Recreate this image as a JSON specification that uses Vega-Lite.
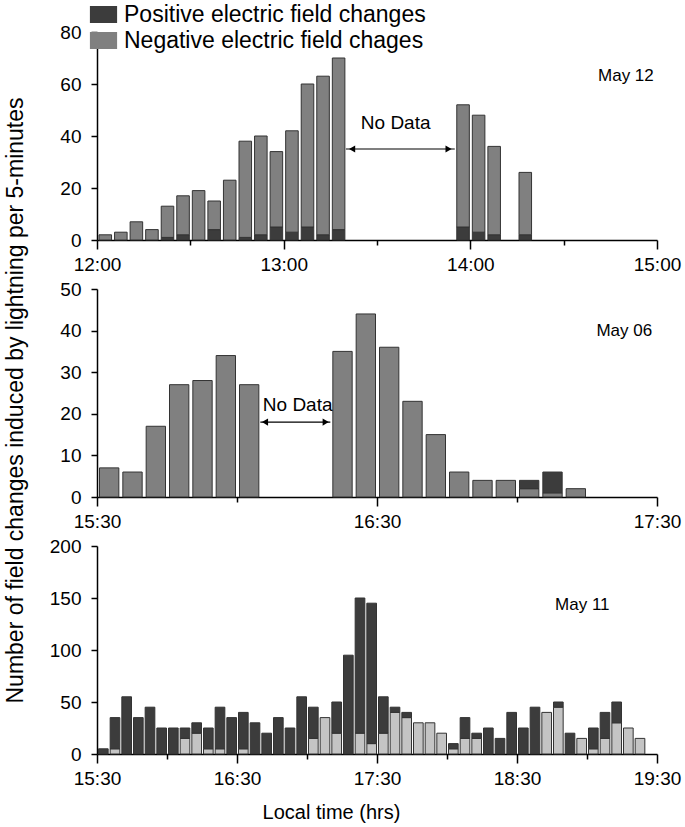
{
  "$schema": "https://vega.github.io/schema/vega-lite/v6.json",
  "background": "white",
  "padding": {"left": 5, "top": 3, "right": 5, "bottom": 5},
  "title": {"text": "Number of field changes induced by lightning per 5-minutes", "orient": "left", "anchor": "middle", "fontSize": 23, "fontWeight": "normal", "font": "Liberation Sans", "color": "black", "offset": 21, "dx": 12},
  "config": {
    "font": "Liberation Sans",
    "view": {"stroke": null},
    "axis": {"labelFont": "Liberation Sans", "labelFontSize": 19, "labelColor": "black", "domainColor": "black", "tickColor": "black", "domainWidth": 1.5, "tickWidth": 1.5, "tickSize": 6, "grid": false, "labelFlush": false, "labelOverlap": false, "titleFont": "Liberation Sans", "titleFontWeight": "normal", "titleColor": "black", "titleFontSize": 20},
    "text": {"font": "Liberation Sans", "fontSize": 17, "color": "black"}
  },
  "datasets": {
    "may12": [
      {"start": 720, "end": 725, "type": "Negative electric field chages", "count": 2},
      {"start": 725, "end": 730, "type": "Negative electric field chages", "count": 3},
      {"start": 730, "end": 735, "type": "Negative electric field chages", "count": 7},
      {"start": 735, "end": 740, "type": "Negative electric field chages", "count": 4},
      {"start": 740, "end": 745, "type": "Positive electric field changes", "count": 1},
      {"start": 740, "end": 745, "type": "Negative electric field chages", "count": 12},
      {"start": 745, "end": 750, "type": "Positive electric field changes", "count": 2},
      {"start": 745, "end": 750, "type": "Negative electric field chages", "count": 15},
      {"start": 750, "end": 755, "type": "Negative electric field chages", "count": 19},
      {"start": 755, "end": 760, "type": "Positive electric field changes", "count": 4},
      {"start": 755, "end": 760, "type": "Negative electric field chages", "count": 11},
      {"start": 760, "end": 765, "type": "Negative electric field chages", "count": 23},
      {"start": 765, "end": 770, "type": "Positive electric field changes", "count": 1},
      {"start": 765, "end": 770, "type": "Negative electric field chages", "count": 37},
      {"start": 770, "end": 775, "type": "Positive electric field changes", "count": 2},
      {"start": 770, "end": 775, "type": "Negative electric field chages", "count": 38},
      {"start": 775, "end": 780, "type": "Positive electric field changes", "count": 5},
      {"start": 775, "end": 780, "type": "Negative electric field chages", "count": 29},
      {"start": 780, "end": 785, "type": "Positive electric field changes", "count": 3},
      {"start": 780, "end": 785, "type": "Negative electric field chages", "count": 39},
      {"start": 785, "end": 790, "type": "Positive electric field changes", "count": 5},
      {"start": 785, "end": 790, "type": "Negative electric field chages", "count": 55},
      {"start": 790, "end": 795, "type": "Positive electric field changes", "count": 2},
      {"start": 790, "end": 795, "type": "Negative electric field chages", "count": 61},
      {"start": 795, "end": 800, "type": "Positive electric field changes", "count": 4},
      {"start": 795, "end": 800, "type": "Negative electric field chages", "count": 66},
      {"start": 835, "end": 840, "type": "Positive electric field changes", "count": 5},
      {"start": 835, "end": 840, "type": "Negative electric field chages", "count": 47},
      {"start": 840, "end": 845, "type": "Positive electric field changes", "count": 3},
      {"start": 840, "end": 845, "type": "Negative electric field chages", "count": 45},
      {"start": 845, "end": 850, "type": "Positive electric field changes", "count": 2},
      {"start": 845, "end": 850, "type": "Negative electric field chages", "count": 34},
      {"start": 855, "end": 860, "type": "Positive electric field changes", "count": 2},
      {"start": 855, "end": 860, "type": "Negative electric field chages", "count": 24}
    ],
    "may06": [
      {"start": 930, "end": 935, "type": "Negative electric field chages", "count": 7},
      {"start": 935, "end": 940, "type": "Negative electric field chages", "count": 6},
      {"start": 940, "end": 945, "type": "Negative electric field chages", "count": 17},
      {"start": 945, "end": 950, "type": "Negative electric field chages", "count": 27},
      {"start": 950, "end": 955, "type": "Negative electric field chages", "count": 28},
      {"start": 955, "end": 960, "type": "Negative electric field chages", "count": 34},
      {"start": 960, "end": 965, "type": "Negative electric field chages", "count": 27},
      {"start": 980, "end": 985, "type": "Negative electric field chages", "count": 35},
      {"start": 985, "end": 990, "type": "Negative electric field chages", "count": 44},
      {"start": 990, "end": 995, "type": "Negative electric field chages", "count": 36},
      {"start": 995, "end": 1000, "type": "Negative electric field chages", "count": 23},
      {"start": 1000, "end": 1005, "type": "Negative electric field chages", "count": 15},
      {"start": 1005, "end": 1010, "type": "Negative electric field chages", "count": 6},
      {"start": 1010, "end": 1015, "type": "Negative electric field chages", "count": 4},
      {"start": 1015, "end": 1020, "type": "Negative electric field chages", "count": 4},
      {"start": 1020, "end": 1025, "type": "Negative electric field chages", "count": 2},
      {"start": 1020, "end": 1025, "type": "Positive electric field changes", "count": 2},
      {"start": 1025, "end": 1030, "type": "Negative electric field chages", "count": 1},
      {"start": 1025, "end": 1030, "type": "Positive electric field changes", "count": 5},
      {"start": 1030, "end": 1035, "type": "Negative electric field chages", "count": 2}
    ],
    "may11": [
      {"start": 930, "end": 935, "type": "Positive electric field changes", "count": 5},
      {"start": 935, "end": 940, "type": "Negative electric field chages", "count": 5},
      {"start": 935, "end": 940, "type": "Positive electric field changes", "count": 30},
      {"start": 940, "end": 945, "type": "Positive electric field changes", "count": 55},
      {"start": 945, "end": 950, "type": "Positive electric field changes", "count": 35},
      {"start": 950, "end": 955, "type": "Positive electric field changes", "count": 45},
      {"start": 955, "end": 960, "type": "Positive electric field changes", "count": 25},
      {"start": 960, "end": 965, "type": "Positive electric field changes", "count": 25},
      {"start": 965, "end": 970, "type": "Negative electric field chages", "count": 15},
      {"start": 965, "end": 970, "type": "Positive electric field changes", "count": 10},
      {"start": 970, "end": 975, "type": "Negative electric field chages", "count": 20},
      {"start": 970, "end": 975, "type": "Positive electric field changes", "count": 10},
      {"start": 975, "end": 980, "type": "Negative electric field chages", "count": 5},
      {"start": 975, "end": 980, "type": "Positive electric field changes", "count": 20},
      {"start": 980, "end": 985, "type": "Negative electric field chages", "count": 5},
      {"start": 980, "end": 985, "type": "Positive electric field changes", "count": 40},
      {"start": 985, "end": 990, "type": "Positive electric field changes", "count": 35},
      {"start": 990, "end": 995, "type": "Negative electric field chages", "count": 5},
      {"start": 990, "end": 995, "type": "Positive electric field changes", "count": 35},
      {"start": 995, "end": 1000, "type": "Positive electric field changes", "count": 30},
      {"start": 1000, "end": 1005, "type": "Positive electric field changes", "count": 20},
      {"start": 1005, "end": 1010, "type": "Positive electric field changes", "count": 35},
      {"start": 1010, "end": 1015, "type": "Positive electric field changes", "count": 25},
      {"start": 1015, "end": 1020, "type": "Positive electric field changes", "count": 55},
      {"start": 1020, "end": 1025, "type": "Negative electric field chages", "count": 15},
      {"start": 1020, "end": 1025, "type": "Positive electric field changes", "count": 30},
      {"start": 1025, "end": 1030, "type": "Negative electric field chages", "count": 35},
      {"start": 1030, "end": 1035, "type": "Negative electric field chages", "count": 20},
      {"start": 1030, "end": 1035, "type": "Positive electric field changes", "count": 30},
      {"start": 1035, "end": 1040, "type": "Positive electric field changes", "count": 95},
      {"start": 1040, "end": 1045, "type": "Negative electric field chages", "count": 20},
      {"start": 1040, "end": 1045, "type": "Positive electric field changes", "count": 130},
      {"start": 1045, "end": 1050, "type": "Negative electric field chages", "count": 10},
      {"start": 1045, "end": 1050, "type": "Positive electric field changes", "count": 135},
      {"start": 1050, "end": 1055, "type": "Negative electric field chages", "count": 20},
      {"start": 1050, "end": 1055, "type": "Positive electric field changes", "count": 35},
      {"start": 1055, "end": 1060, "type": "Negative electric field chages", "count": 40},
      {"start": 1055, "end": 1060, "type": "Positive electric field changes", "count": 5},
      {"start": 1060, "end": 1065, "type": "Negative electric field chages", "count": 35},
      {"start": 1060, "end": 1065, "type": "Positive electric field changes", "count": 5},
      {"start": 1065, "end": 1070, "type": "Negative electric field chages", "count": 30},
      {"start": 1070, "end": 1075, "type": "Negative electric field chages", "count": 30},
      {"start": 1075, "end": 1080, "type": "Negative electric field chages", "count": 20},
      {"start": 1080, "end": 1085, "type": "Negative electric field chages", "count": 5},
      {"start": 1080, "end": 1085, "type": "Positive electric field changes", "count": 5},
      {"start": 1085, "end": 1090, "type": "Negative electric field chages", "count": 15},
      {"start": 1085, "end": 1090, "type": "Positive electric field changes", "count": 20},
      {"start": 1090, "end": 1095, "type": "Negative electric field chages", "count": 15},
      {"start": 1090, "end": 1095, "type": "Positive electric field changes", "count": 5},
      {"start": 1095, "end": 1100, "type": "Positive electric field changes", "count": 25},
      {"start": 1100, "end": 1105, "type": "Positive electric field changes", "count": 15},
      {"start": 1105, "end": 1110, "type": "Positive electric field changes", "count": 40},
      {"start": 1110, "end": 1115, "type": "Positive electric field changes", "count": 25},
      {"start": 1115, "end": 1120, "type": "Positive electric field changes", "count": 45},
      {"start": 1120, "end": 1125, "type": "Negative electric field chages", "count": 40},
      {"start": 1125, "end": 1130, "type": "Negative electric field chages", "count": 45},
      {"start": 1125, "end": 1130, "type": "Positive electric field changes", "count": 5},
      {"start": 1130, "end": 1135, "type": "Positive electric field changes", "count": 20},
      {"start": 1135, "end": 1140, "type": "Negative electric field chages", "count": 15},
      {"start": 1140, "end": 1145, "type": "Negative electric field chages", "count": 5},
      {"start": 1140, "end": 1145, "type": "Positive electric field changes", "count": 20},
      {"start": 1145, "end": 1150, "type": "Negative electric field chages", "count": 15},
      {"start": 1145, "end": 1150, "type": "Positive electric field changes", "count": 25},
      {"start": 1150, "end": 1155, "type": "Negative electric field chages", "count": 30},
      {"start": 1150, "end": 1155, "type": "Positive electric field changes", "count": 20},
      {"start": 1155, "end": 1160, "type": "Negative electric field chages", "count": 25},
      {"start": 1160, "end": 1165, "type": "Negative electric field chages", "count": 15}
    ]
  },
  "spacing": 49,
  "bounds": "flush",
  "resolve": {"scale": {"color": "independent", "x": "independent", "y": "independent", "shape": "independent"}},
  "vconcat": [
    {
      "width": 560, "height": 208,
      "layer": [
        {
          "data": {"name": "may12"},
          "mark": {"type": "bar", "binSpacing": 3, "stroke": "#333333", "strokeWidth": 1},
          "encoding": {
            "x": {"field": "start", "type": "quantitative", "bin": "binned", "title": null, "scale": {"domain": [720, 900], "nice": false, "zero": false},
                  "axis": {"values": [720, 750, 780, 810, 840, 870, 900], "labelExpr": "datum.value % 60 === 0 ? (floor(datum.value / 60) + ':00') : ''", "labelPadding": 6,
                           "tickSize": {"condition": {"test": "datum.value % 60 === 0", "value": 9}, "value": 5}}},
            "x2": {"field": "end"},
            "y": {"field": "count", "type": "quantitative", "stack": "zero", "title": null, "scale": {"domain": [0, 80], "nice": false},
                  "axis": {"values": [0, 10, 20, 30, 40, 50, 60, 70, 80], "labelExpr": "datum.value % 20 === 0 ? datum.label : ''", "labelPadding": 10}},
            "color": {"field": "type", "type": "nominal",
                      "scale": {"domain": ["Positive electric field changes", "Negative electric field chages"], "range": ["#3c3c3c", "#808080"]},
                      "legend": {"title": null, "orient": "none", "legendX": -5, "legendY": -29, "labelFontSize": 23, "labelFont": "Liberation Sans", "labelColor": "black", "labelLimit": 0,
                                 "symbolType": "M-1.6,-1H1.6V1H-1.6Z", "symbolSize": 289, "symbolStrokeWidth": 1, "symbolStrokeColor": "#222222", "rowPadding": 2, "labelOffset": 9,
                                 "encode": {"symbols": {"update": {"fill": {"signal": "datum.value === 'Negative electric field chages' ? '#b5b5b5' : '#3c3c3c'"}, "opacity": {"value": 1}}}}}},
            "order": {"field": "type", "sort": "descending"}
          }
        },
        {
          "data": {"values": [{"label": "May 12", "start": 890, "count": 63}]},
          "mark": {"type": "text", "align": "center", "baseline": "middle", "fontSize": 17},
          "encoding": {"x": {"field": "start", "type": "quantitative", "title": null}, "y": {"field": "count", "type": "quantitative", "title": null}, "text": {"field": "label"}}
        },
        {
          "data": {"values": [{"label": "No Data", "start": 816, "count": 45}]},
          "mark": {"type": "text", "align": "center", "baseline": "middle", "fontSize": 19},
          "encoding": {"x": {"field": "start", "type": "quantitative", "title": null}, "y": {"field": "count", "type": "quantitative", "title": null}, "text": {"field": "label"}}
        },
        {
          "data": {"values": [{"start": 800, "end": 835, "count": 35}]},
          "mark": {"type": "rule", "color": "black", "strokeWidth": 1.2},
          "encoding": {"x": {"field": "start", "type": "quantitative", "title": null}, "x2": {"field": "end"}, "y": {"field": "count", "type": "quantitative", "title": null}}
        },
        {
          "data": {"values": [{"start": 802, "count": 35, "dir": "left"}, {"start": 833, "count": 35, "dir": "right"}]},
          "mark": {"type": "point", "filled": true, "color": "black", "size": 50, "opacity": 1},
          "encoding": {"x": {"field": "start", "type": "quantitative", "title": null}, "y": {"field": "count", "type": "quantitative", "title": null},
                       "shape": {"field": "dir", "type": "nominal", "scale": {"domain": ["left", "right"], "range": ["triangle-left", "triangle-right"]}, "legend": null}}
        }
      ]
    },
    {
      "width": 560, "height": 208,
      "layer": [
        {
          "data": {"name": "may06"},
          "mark": {"type": "bar", "binSpacing": 4, "stroke": "#333333", "strokeWidth": 1},
          "encoding": {
            "x": {"field": "start", "type": "quantitative", "bin": "binned", "title": null, "scale": {"domain": [930, 1050], "nice": false, "zero": false},
                  "axis": {"values": [930, 960, 990, 1020, 1050], "labelExpr": "datum.value % 60 === 30 ? (floor(datum.value / 60) + ':30') : ''", "labelPadding": 6,
                           "tickSize": {"condition": {"test": "datum.value % 60 === 30", "value": 9}, "value": 5}}},
            "x2": {"field": "end"},
            "y": {"field": "count", "type": "quantitative", "stack": "zero", "title": null, "scale": {"domain": [0, 50], "nice": false},
                  "axis": {"values": [0, 5, 10, 15, 20, 25, 30, 35, 40, 45, 50], "labelExpr": "datum.value % 10 === 0 ? datum.label : ''", "labelPadding": 10}},
            "color": {"field": "type", "type": "nominal",
                      "scale": {"domain": ["Positive electric field changes", "Negative electric field chages"], "range": ["#3c3c3c", "#808080"]}, "legend": null},
            "order": {"field": "type", "sort": "ascending"}
          }
        },
        {
          "data": {"values": [{"label": "May 06", "start": 1043, "count": 40}]},
          "mark": {"type": "text", "align": "center", "baseline": "middle", "fontSize": 17},
          "encoding": {"x": {"field": "start", "type": "quantitative", "title": null}, "y": {"field": "count", "type": "quantitative", "title": null}, "text": {"field": "label"}}
        },
        {
          "data": {"values": [{"label": "No Data", "start": 973, "count": 22}]},
          "mark": {"type": "text", "align": "center", "baseline": "middle", "fontSize": 19},
          "encoding": {"x": {"field": "start", "type": "quantitative", "title": null}, "y": {"field": "count", "type": "quantitative", "title": null}, "text": {"field": "label"}}
        },
        {
          "data": {"values": [{"start": 965, "end": 980, "count": 18}]},
          "mark": {"type": "rule", "color": "black", "strokeWidth": 1.2},
          "encoding": {"x": {"field": "start", "type": "quantitative", "title": null}, "x2": {"field": "end"}, "y": {"field": "count", "type": "quantitative", "title": null}}
        },
        {
          "data": {"values": [{"start": 966, "count": 18, "dir": "left"}, {"start": 979, "count": 18, "dir": "right"}]},
          "mark": {"type": "point", "filled": true, "color": "black", "size": 50, "opacity": 1},
          "encoding": {"x": {"field": "start", "type": "quantitative", "title": null}, "y": {"field": "count", "type": "quantitative", "title": null},
                       "shape": {"field": "dir", "type": "nominal", "scale": {"domain": ["left", "right"], "range": ["triangle-left", "triangle-right"]}, "legend": null}}
        }
      ]
    },
    {
      "width": 560, "height": 208,
      "layer": [
        {
          "data": {"name": "may11"},
          "mark": {"type": "bar", "binSpacing": 2, "stroke": "#333333", "strokeWidth": 1},
          "encoding": {
            "x": {"field": "start", "type": "quantitative", "bin": "binned", "title": "Local time (hrs)", "scale": {"domain": [930, 1170], "nice": false, "zero": false},
                  "axis": {"values": [930, 960, 990, 1020, 1050, 1080, 1110, 1140, 1170], "labelExpr": "datum.value % 60 === 30 ? (floor(datum.value / 60) + ':30') : ''", "labelPadding": 6, "titlePadding": 14, "titleX": 234, "titleAnchor": "middle",
                           "tickSize": {"condition": {"test": "datum.value % 60 === 30", "value": 9}, "value": 5}}},
            "x2": {"field": "end"},
            "y": {"field": "count", "type": "quantitative", "stack": "zero", "title": null, "scale": {"domain": [0, 200], "nice": false},
                  "axis": {"values": [0, 25, 50, 75, 100, 125, 150, 175, 200], "labelExpr": "datum.value % 50 === 0 ? datum.label : ''", "labelPadding": 10}},
            "color": {"field": "type", "type": "nominal",
                      "scale": {"domain": ["Positive electric field changes", "Negative electric field chages"], "range": ["#3c3c3c", "#c4c4c4"]}, "legend": null},
            "order": {"field": "type", "sort": "ascending"}
          }
        },
        {
          "data": {"values": [{"label": "May 11", "start": 1138, "count": 143}]},
          "mark": {"type": "text", "align": "center", "baseline": "middle", "fontSize": 17},
          "encoding": {"x": {"field": "start", "type": "quantitative", "title": "Local time (hrs)"}, "y": {"field": "count", "type": "quantitative", "title": null}, "text": {"field": "label"}}
        }
      ]
    }
  ]
}
